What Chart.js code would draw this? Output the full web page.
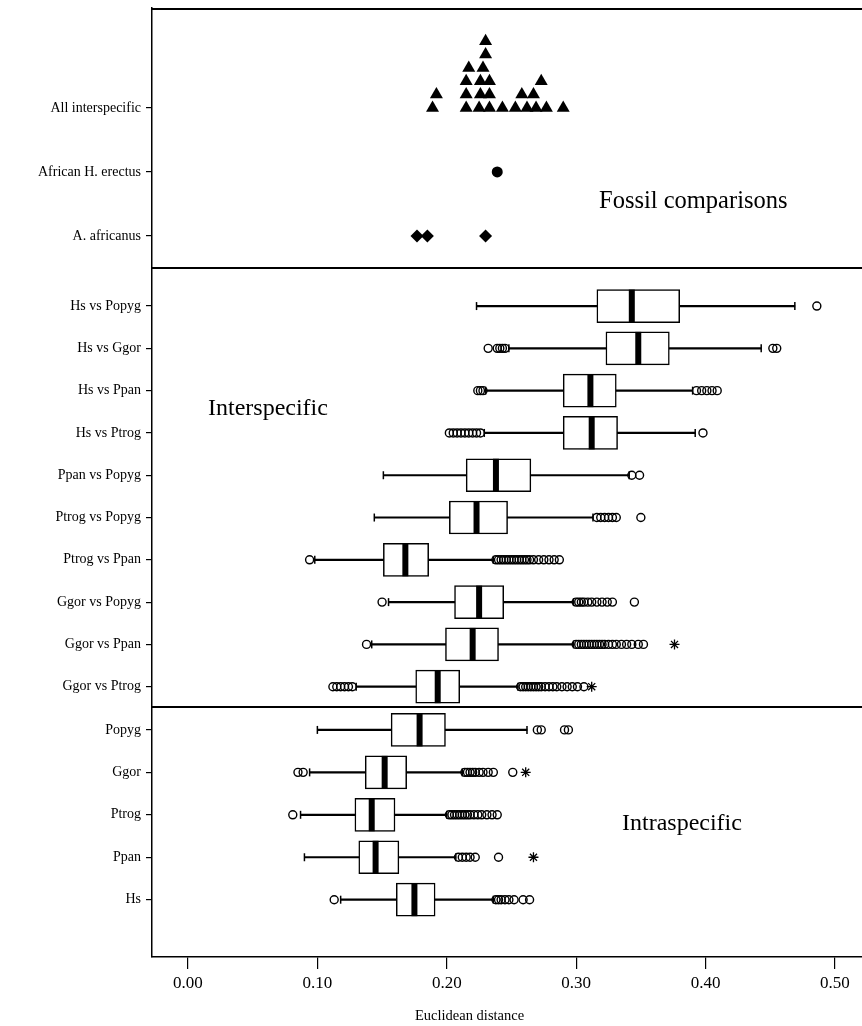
<!DOCTYPE html>
<html><head><meta charset="utf-8">
<script src="https://cdn.jsdelivr.net/npm/chart.js@4/dist/chart.umd.min.js"></script>
<style>
html,body{margin:0;padding:0;background:#fff;width:862px;height:1026px;overflow:hidden;position:relative;}
canvas{position:absolute;left:0;}
.note{position:absolute;font-family:"Liberation Serif",serif;color:#000;white-space:nowrap;line-height:1;}
</style></head><body>
<canvas id="c1" style="top:0px"></canvas>
<canvas id="c2" style="top:268px"></canvas>
<canvas id="c3" style="top:707px"></canvas>
<div class="note" style="left:599px;top:188px;font-size:24.5px">Fossil comparisons</div>
<div class="note" style="left:208px;top:395px;font-size:24px">Interspecific</div>
<div class="note" style="left:622px;top:810px;font-size:24px">Intraspecific</div>
<div class="note" id="xtitle" style="left:415px;top:1008px;font-size:14.5px">Euclidean distance</div>
<script>
// ---------- data ----------
const tickValues = [0, 0.1, 0.2, 0.3, 0.4, 0.5];
const tickLabels = ['0.00', '0.10', '0.20', '0.30', '0.40', '0.50'];

const fossilCategories = ['All interspecific', 'African H. erectus', 'A. africanus'];
const allInterspecific = [0.189, 0.192, 0.215, 0.215, 0.215, 0.217, 0.225, 0.226, 0.226, 0.228, 0.230, 0.230,
  0.233, 0.233, 0.233, 0.243, 0.253, 0.258, 0.262, 0.267, 0.269, 0.273, 0.277, 0.290];
const africanHErectus = [0.239];
const aAfricanus = [0.177, 0.185, 0.230];

const interCategories = ['Hs vs Popyg', 'Hs vs Ggor', 'Hs vs Ppan', 'Hs vs Ptrog', 'Ppan vs Popyg',
  'Ptrog vs Popyg', 'Ptrog vs Ppan', 'Ggor vs Popyg', 'Ggor vs Ppan', 'Ggor vs Ptrog'];
const interWhiskerLow  = [0.223, 0.248, 0.230, 0.229, 0.151, 0.144, 0.098, 0.155, 0.142, 0.130];
const interQ1          = [0.316, 0.323, 0.290, 0.290, 0.215, 0.202, 0.151, 0.206, 0.199, 0.176];
const interMedian      = [0.343, 0.348, 0.311, 0.312, 0.238, 0.223, 0.168, 0.225, 0.220, 0.193];
const interQ3          = [0.380, 0.372, 0.331, 0.332, 0.265, 0.247, 0.186, 0.244, 0.240, 0.210];
const interWhiskerHigh = [0.469, 0.443, 0.390, 0.392, 0.341, 0.313, 0.236, 0.298, 0.298, 0.255];
const interOutliers = [
  [0.486],
  [0.232, 0.239, 0.241, 0.243, 0.245, 0.452, 0.455],
  [0.224, 0.226, 0.228, 0.393, 0.397, 0.401, 0.405, 0.409],
  [0.202, 0.205, 0.208, 0.211, 0.214, 0.217, 0.220, 0.223, 0.226, 0.398],
  [0.343, 0.349],
  [0.316, 0.319, 0.322, 0.325, 0.328, 0.331, 0.350],
  [0.094, 0.238, 0.240, 0.242, 0.244, 0.246, 0.248, 0.250, 0.252, 0.254, 0.256, 0.258, 0.260, 0.262, 0.264,
   0.267, 0.271, 0.275, 0.279, 0.283, 0.287],
  [0.150, 0.300, 0.302, 0.304, 0.306, 0.309, 0.312, 0.316, 0.320, 0.324, 0.328, 0.345],
  [0.138, 0.300, 0.302, 0.304, 0.306, 0.308, 0.310, 0.312, 0.314, 0.316, 0.318, 0.320, 0.322, 0.325, 0.328,
   0.331, 0.335, 0.339, 0.343, 0.348, 0.352],
  [0.112, 0.115, 0.118, 0.121, 0.124, 0.127, 0.257, 0.259, 0.261, 0.263, 0.265, 0.267, 0.269, 0.271, 0.273,
   0.276, 0.279, 0.282, 0.285, 0.289, 0.293, 0.297, 0.301, 0.306]
];
const interExtremes = [[], [], [], [], [], [], [], [], [0.376], [0.312]];

const intraCategories = ['Popyg', 'Ggor', 'Ptrog', 'Ppan', 'Hs'];
const intraWhiskerLow  = [0.100, 0.094, 0.087, 0.090, 0.118];
const intraQ1          = [0.157, 0.137, 0.129, 0.132, 0.161];
const intraMedian      = [0.179, 0.152, 0.142, 0.145, 0.175];
const intraQ3          = [0.199, 0.169, 0.160, 0.163, 0.191];
const intraWhiskerHigh = [0.262, 0.212, 0.200, 0.207, 0.236];
const intraOutliers = [
  [0.270, 0.273, 0.291, 0.294],
  [0.085, 0.089, 0.214, 0.216, 0.218, 0.220, 0.222, 0.225, 0.228, 0.232, 0.236, 0.251],
  [0.081, 0.202, 0.204, 0.206, 0.208, 0.210, 0.212, 0.214, 0.216, 0.218, 0.221, 0.224, 0.227, 0.231, 0.235, 0.239],
  [0.209, 0.212, 0.215, 0.218, 0.222, 0.240],
  [0.113, 0.238, 0.240, 0.242, 0.245, 0.248, 0.252, 0.259, 0.264]
];
const intraExtremes = [[], [0.261], [], [0.267], []];

// ---------- helpers ----------
const FONT = '"Liberation Serif", "Times New Roman", serif';
const X_MIN = -0.0278, X_MAX = 0.5209;
const AXIS_W = 152;

function stackDots(values, row, minGap, step) {
  const placed = [];
  values.slice().sort((a, b) => a - b).forEach(v => {
    let L = 0;
    while (placed.some(p => p.level === L && Math.abs(p.x - v) < minGap)) L++;
    placed.push({x: v, level: L});
  });
  return placed.map(p => ({x: p.x, y: row - p.level * step}));
}

function boxDatasets(cats, wl, q1, med, q3, wh, outs, ext) {
  const idx = cats.map((c, i) => i);
  return [
    {type: 'bar', data: idx.map(i => ({x: [wl[i], wh[i]], y: i})), backgroundColor: '#000',
     borderWidth: 0, barThickness: 1.5, grouped: false, order: 6},
    {type: 'bar', data: idx.map(i => ({x: [q1[i], q3[i]], y: i})), backgroundColor: '#fff',
     borderColor: '#000', borderWidth: 1.5, borderSkipped: false, barThickness: 33, grouped: false, order: 5},
    {type: 'scatter', data: idx.map(i => ({x: med[i], y: i})), pointStyle: 'line', rotation: 90,
     radius: 16.5, borderWidth: 6, borderColor: '#000', order: 4},
    {type: 'scatter', data: idx.flatMap(i => [{x: wl[i], y: i}, {x: wh[i], y: i}]), pointStyle: 'line',
     rotation: 90, radius: 4, borderWidth: 1.5, borderColor: '#000', order: 3},
    {type: 'scatter', data: idx.flatMap(i => outs[i].map(v => ({x: v, y: i}))), pointStyle: 'circle',
     radius: 4, backgroundColor: 'rgba(0,0,0,0)', borderColor: '#000', borderWidth: 1.4, order: 2},
    {type: 'scatter', data: idx.flatMap(i => ext[i].map(v => ({x: v, y: i}))), pointStyle: 'star',
     radius: 5, backgroundColor: '#000', borderColor: '#000', borderWidth: 1.3, order: 1}
  ];
}

const framePlugin = {
  id: 'frame',
  afterDraw(chart, args, opts) {
    const {ctx, chartArea: a} = chart;
    ctx.save();
    ctx.strokeStyle = '#000';
    ctx.lineWidth = 2;
    ctx.beginPath();
    if (opts.top) { ctx.moveTo(a.left, a.top + 1); ctx.lineTo(chart.width, a.top + 1); }
    if (opts.bottom) { ctx.moveTo(a.left, a.bottom); ctx.lineTo(chart.width, a.bottom); }
    ctx.stroke();
    ctx.restore();
  }
};

function zeroPad(s) { s.paddingTop = 0; s.paddingBottom = 0; s.paddingLeft = 0; s.paddingRight = 0; }

function yScale(cats, min, max) {
  return {
    type: 'linear', reverse: true, min: min, max: max, bounds: 'data', offset: false,
    afterBuildTicks: s => { s.ticks = cats.map((c, i) => ({value: i})); },
    afterFit: s => { s.width = AXIS_W; zeroPad(s); },
    ticks: {autoSkip: false, padding: 5, color: '#000', font: {family: FONT, size: 14},
            callback: v => cats[v]},
    grid: {display: true, offset: false, drawOnChartArea: false, drawTicks: true, tickLength: 6,
           color: '#000', lineWidth: 1.2},
    border: {display: true, color: '#000', width: 1.5}
  };
}

function xScale(show) {
  return {
    type: 'linear', min: X_MIN, max: X_MAX, bounds: 'data', position: 'bottom', display: show,
    afterBuildTicks: s => { s.ticks = tickValues.map(v => ({value: v})); },
    afterFit: s => { if (show) s.height = 69; zeroPad(s); },
    ticks: {autoSkip: false, maxRotation: 0, padding: 4, color: '#000', font: {family: FONT, size: 17},
            callback: (v, i) => tickLabels[i]},
    grid: {display: true, drawOnChartArea: false, drawTicks: true, tickLength: 12, color: '#000', lineWidth: 1.2},
    border: {display: true, color: '#000', width: 1.5}
  };
}

function baseOptions(yCfg, showX, frame, padding) {
  return {
    responsive: false, animation: false, devicePixelRatio: 1, indexAxis: 'y',
    layout: {padding: padding, autoPadding: false},
    plugins: {legend: {display: false}, tooltip: {enabled: false}, frame: frame},
    scales: {x: xScale(showX), y: yCfg}
  };
}

function makeCanvas(id, h) {
  const c = document.getElementById(id);
  c.width = 862; c.height = h;
  c.style.width = '862px'; c.style.height = h + 'px';
  return c;
}

// ---------- chart 1: fossil comparisons ----------
new Chart(makeCanvas('c1', 272), {
  type: 'scatter',
  data: {datasets: [
    {data: stackDots(allInterspecific, 0, 0.0065, 0.208), pointStyle: 'triangle', radius: 7.5,
     backgroundColor: '#000', borderWidth: 0},
    {data: africanHErectus.map(v => ({x: v, y: 1})), pointStyle: 'circle', radius: 5.5,
     backgroundColor: '#000', borderWidth: 0},
    {data: aAfricanus.map(v => ({x: v, y: 2})), pointStyle: 'rectRot', radius: 6.5,
     backgroundColor: '#000', borderWidth: 0}
  ]},
  options: baseOptions(yScale(fossilCategories, -1.56, 2.50), false, {top: true, bottom: true},
                       {top: 8, bottom: 4, left: 0, right: 0}),
  plugins: [framePlugin]
});

// ---------- chart 2: interspecific ----------
new Chart(makeCanvas('c2', 442), {
  type: 'bar',
  data: {datasets: boxDatasets(interCategories, interWhiskerLow, interQ1, interMedian, interQ3,
                               interWhiskerHigh, interOutliers, interExtremes)},
  options: baseOptions(yScale(interCategories, -0.90, 9.48), false, {top: false, bottom: true},
                       {top: 0, bottom: 3, left: 0, right: 0}),
  plugins: [framePlugin]
});

// ---------- chart 3: intraspecific ----------
new Chart(makeCanvas('c3', 319), {
  type: 'bar',
  data: {datasets: boxDatasets(intraCategories, intraWhiskerLow, intraQ1, intraMedian, intraQ3,
                               intraWhiskerHigh, intraOutliers, intraExtremes)},
  options: baseOptions(yScale(intraCategories, -0.54, 5.35), true, {top: false, bottom: false},
                       {top: 0, bottom: 0, left: 0, right: 0}),
  plugins: [framePlugin]
});
</script>
</body></html>
